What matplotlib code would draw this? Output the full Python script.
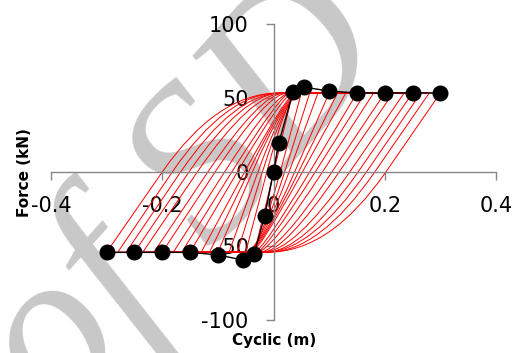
import numpy as np
import matplotlib
matplotlib.use("Agg")
import matplotlib.pyplot as plt
from matplotlib.path import Path
from matplotlib.patches import PathPatch

plt.rcParams['axes.unicode_minus'] = False

# hysteresis loops
# unloading branches: start at the positive peak, cross F=0, flatten at the lower plateau
peak_pos = [0.05, 0.065, 0.08, 0.1, 0.115, 0.13, 0.15, 0.165, 0.18, 0.2, 0.215, 0.235, 0.25, 0.265, 0.28, 0.3]
zero_unload = [0.012, 0.02, 0.028, 0.038, 0.045, 0.052, 0.065, 0.075, 0.088, 0.105, 0.118, 0.137, 0.152, 0.167, 0.182, 0.202]
end_unload = [-0.045, -0.05, -0.05, -0.05, -0.045, -0.04, -0.035, -0.03, -0.03, -0.025, -0.02, -0.02, -0.015, -0.015, -0.01, -0.01]
# reloading branches: start at the negative peak, cross F=0, flatten at the upper plateau
peak_neg = [-0.05, -0.065, -0.08, -0.1, -0.115, -0.13, -0.15, -0.165, -0.18, -0.2, -0.215, -0.235, -0.25, -0.265, -0.28, -0.3]
zero_reload = [-0.012, -0.02, -0.028, -0.038, -0.045, -0.052, -0.065, -0.075, -0.088, -0.105, -0.118, -0.137, -0.152, -0.167, -0.182, -0.2]
end_reload = [0.045, 0.05, 0.05, 0.05, 0.045, 0.04, 0.035, 0.03, 0.03, 0.025, 0.02, 0.02, 0.015, 0.015, 0.01, 0.01]
f_top = 53.4
f_bot = -54.2

# small elastic cycles near the origin
small_x = [[0.0096, -0.016], [0.035, -0.035]]
small_f = [[19.8, -30.0], [54.0, -55.4]]

# backbone points
bb_x = [-0.3, -0.25, -0.2, -0.15, -0.1, -0.055, -0.035, -0.016, 0.0, 0.0096, 0.035, 0.054, 0.1, 0.15, 0.2, 0.25, 0.3]
bb_f = [-54.3, -54.3, -54.3, -54.3, -56.0, -59.5, -55.4, -30.0, 0.0, 19.8, 54.0, 57.4, 54.7, 53.4, 53.4, 53.4, 53.4]

xticks = [-0.4, -0.2, 0, 0.2, 0.4]
xlabels = ['-0.4', '-0.2', '0', '0.2', '0.4']
yticks = [-100, -50, 0, 50, 100]


def branch(ax, xs, x0, xe, fs, fend, xfar):
    # straight elastic part, then a smooth bend into the plateau
    xk = x0 - (xs - x0) * (-fend) / fs
    verts = [(xs, fs), (x0, 0), (xk, fend), (xe, fend), (xfar, fend)]
    codes = [Path.MOVETO, Path.LINETO, Path.CURVE3, Path.CURVE3, Path.LINETO]
    ax.add_patch(PathPatch(Path(verts, codes), facecolor='none', edgecolor='#ff0000', lw=0.7, zorder=2))


fig = plt.figure(figsize=(5.16, 3.53), dpi=100)
ax = fig.add_axes([51 / 516, 1 - 320 / 353, 445 / 516, 296 / 353])
ax.patch.set_alpha(0)
ax.set_zorder(2)

# faint watermark behind the chart
fig.text(0.36, 0.435, 'of SD', family='Liberation Serif', style='italic', fontsize=160,
         color='#c8c8c8', rotation=48, ha='center', va='center', zorder=0)

for i in range(len(peak_pos)):
    branch(ax, peak_pos[i], zero_unload[i], end_unload[i], f_top, f_bot, peak_neg[i])
    branch(ax, peak_neg[i], zero_reload[i], end_reload[i], f_bot, f_top, peak_pos[i])
for xs, fs in zip(small_x, small_f):
    ax.plot(xs, fs, color='#ff0000', lw=0.7, zorder=2)

ax.plot(bb_x, bb_f, color='black', lw=1, marker='o', markersize=10.5, zorder=3)

ax.set_xlim(-0.4, 0.4)
ax.set_ylim(-100, 100)
ax.spines['left'].set_position('zero')
ax.spines['bottom'].set_position('zero')
ax.spines['top'].set_visible(False)
ax.spines['right'].set_visible(False)
for s in ['left', 'bottom']:
    ax.spines[s].set_color('#868686')
    ax.spines[s].set_linewidth(1)
ax.set_xticks(xticks)
ax.set_xticklabels(xlabels)
ax.set_yticks(yticks)
ax.set_yticklabels([str(v) for v in yticks])
ax.tick_params(axis='x', direction='out', length=6, width=1, color='#868686', pad=11, labelsize=15)
ax.tick_params(axis='y', direction='out', length=6, width=1, color='#868686', pad=12, labelsize=15)

fig.text(274 / 516, 1 - 340 / 353, 'Cyclic (m)', fontsize=11, fontweight='bold', ha='center', va='center')
fig.text(25 / 516, 1 - 173 / 353, 'Force (kN)', fontsize=11, fontweight='bold', ha='center', va='center', rotation=90)

fig.savefig('out.png', dpi=100)
